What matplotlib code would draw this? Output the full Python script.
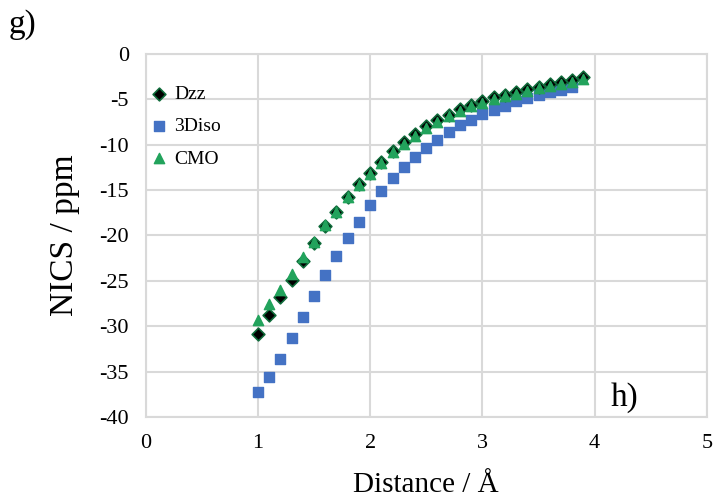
import numpy as np
import matplotlib
matplotlib.use("Agg")
import matplotlib.pyplot as plt

plt.rcParams['font.family'] = ['Liberation Serif', 'DejaVu Serif']
plt.rcParams['axes.unicode_minus'] = False

# data
dist = [1.0, 1.1, 1.2, 1.3, 1.4, 1.5, 1.6, 1.7, 1.8, 1.9,
        2.0, 2.1, 2.2, 2.3, 2.4, 2.5, 2.6, 2.7, 2.8, 2.9,
        3.0, 3.1, 3.2, 3.3, 3.4, 3.5, 3.6, 3.7, 3.8, 3.9]
dzz = [-30.9, -28.8, -26.8, -24.9, -22.8, -20.8, -19.0, -17.4, -15.8, -14.3,
       -13.1, -11.9, -10.7, -9.7, -8.8, -8.0, -7.3, -6.7, -6.1, -5.6,
       -5.2, -4.8, -4.5, -4.2, -3.9, -3.6, -3.3, -3.1, -2.9, -2.6]
cmo = [-29.3, -27.6, -26.0, -24.2, -22.4, -20.7, -18.9, -17.4, -15.8, -14.4,
       -13.2, -12.0, -10.8, -9.9, -9.0, -8.2, -7.5, -6.9, -6.3, -5.8,
       -5.4, -5.0, -4.7, -4.4, -4.1, -3.8, -3.5, -3.3, -3.1, -2.8]
dist_iso = dist[:-1]
iso = [-37.3, -35.6, -33.6, -31.3, -29.0, -26.7, -24.4, -22.3, -20.3, -18.5,
       -16.7, -15.1, -13.7, -12.5, -11.4, -10.4, -9.5, -8.6, -7.8, -7.3,
       -6.6, -6.2, -5.7, -5.25, -4.9, -4.5, -4.2, -4.0, -3.7]

fig = plt.figure(figsize=(7.17, 5.03), dpi=100)
ax = fig.add_axes([0.203, 0.171, 0.783, 0.722])

ax.scatter(dist_iso, iso, marker='s', s=55, color='#4472C4', label='3Diso', zorder=3)
ax.scatter(dist, dzz, marker='D', s=42, facecolor='black', edgecolor='#0f6b3a',
           linewidths=1.2, label='Dzz', zorder=4)
ax.scatter(dist, cmo, marker='^', s=55, color='#22a35c', label='CMO', zorder=5)

ax.set_xlim(0, 5)
ax.set_ylim(-40, 0)
ax.set_xticks(range(0, 6))
ax.set_yticks(range(-40, 1, 5))
ax.grid(True, color='#d9d9d9', linewidth=1.5)
ax.set_axisbelow(True)
for s in ax.spines.values():
    s.set_color('#d9d9d9')
    s.set_linewidth(1.5)
ax.tick_params(length=0, labelsize=16, pad=12)

ax.set_xlabel('Distance / Å', fontsize=21, labelpad=14)
ax.set_ylabel('NICS / ppm', fontsize=24, labelpad=14)

h, l = ax.get_legend_handles_labels()
order = [1, 0, 2]
ax.legend([h[i] for i in order], [l[i] for i in order], loc='upper left',
          bbox_to_anchor=(-0.035, 0.95), frameon=False, fontsize=14,
          handletextpad=-0.2, labelspacing=0.75, borderaxespad=0.3)

fig.text(0.012, 0.935, 'g)', fontsize=24)
ax.text(0.854, 0.03, 'h)', transform=ax.transAxes, fontsize=24, ha='center')

fig.savefig('out.png', dpi=100)
